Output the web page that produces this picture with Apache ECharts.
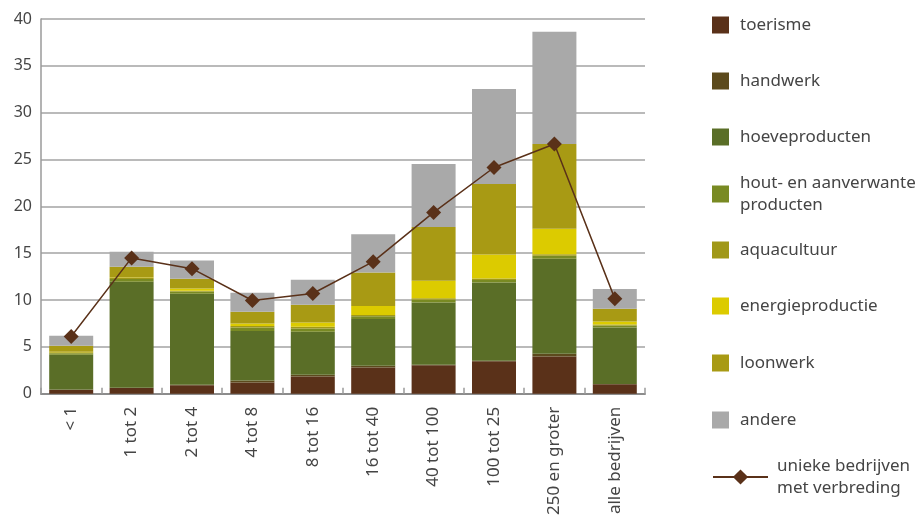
<!DOCTYPE html>
<html><head><meta charset="utf-8">
<script src="https://cdn.jsdelivr.net/npm/echarts@6/dist/echarts.min.js"></script>
<style>html,body{margin:0;padding:0;background:#fff}#c{width:924px;height:518px}</style>
</head><body><div id="c"></div>
<script>
const categories = ['< 1','1 tot 2','2 tot 4','4 tot 8','8 tot 16','16 tot 40','40 tot 100','100 tot 25','250 en groter','alle bedrijven'];
const toerisme    = [0.40, 0.60, 0.90, 1.20, 1.85, 2.80, 3.05, 3.48, 3.98, 1.00];
const handwerk    = [0.05, 0.05, 0.06, 0.20, 0.18, 0.18, 0.05, 0.05, 0.28, 0.05];
const hoeve       = [3.70, 11.30, 9.70, 5.30, 4.58, 5.00, 6.64, 8.34, 10.14, 6.02];
const hout        = [0.18, 0.30, 0.24, 0.36, 0.35, 0.30, 0.30, 0.28, 0.33, 0.22];
const aquacultuur = [0.10, 0.10, 0.10, 0.18, 0.20, 0.13, 0.16, 0.15, 0.17, 0.10];
const energie     = [0.05, 0.05, 0.24, 0.25, 0.43, 0.96, 1.85, 2.56, 2.70, 0.32];
const loonwerk    = [0.65, 1.15, 1.03, 1.25, 1.92, 3.56, 5.76, 7.54, 9.07, 1.35];
const andere      = [1.05, 1.60, 1.95, 2.03, 2.65, 4.10, 6.72, 10.13, 11.98, 2.13];
const unieke      = [6.1, 14.5, 13.35, 9.95, 10.7, 14.1, 19.35, 24.15, 26.65, 10.15];
const yTicks = [0, 5, 10, 15, 20, 25, 30, 35, 40];

const FONT = '"Noto Sans", sans-serif';
const TXT = '#454545';
const barDefs = [
  ['toerisme', toerisme, '#5a3119'],
  ['handwerk', handwerk, '#5c4a1c'],
  ['hoeveproducten', hoeve, '#5a6e27'],
  ['hout- en aanverwante producten', hout, '#798a23'],
  ['aquacultuur', aquacultuur, '#a09818'],
  ['energieproductie', energie, '#dccb00'],
  ['loonwerk', loonwerk, '#a89a14'],
  ['andere', andere, '#a9a9a9']
];
const lineName = 'unieke bedrijven met verbreding';
const series = barDefs.map(d => ({
  name: d[0], type: 'bar', stack: 'tot', data: d[1], barWidth: 44,
  itemStyle: { color: d[2] }, emphasis: { disabled: true }
}));
series.push({
  name: lineName, type: 'line', data: unieke, symbol: 'diamond', symbolSize: 15,
  lineStyle: { color: '#5a3119', width: 1.5 }, itemStyle: { color: '#5a3119' },
  z: 10, emphasis: { disabled: true }
});

const legendTops = [14, 70, 126, 172, 239, 295, 352, 409, 455];
const allNames = barDefs.map(d => d[0]).concat([lineName]);
const legends = allNames.map((n, i) => {
  const isLine = n === lineName;
  const lg = {
    data: [n], orient: 'vertical', left: 712, top: legendTops[i], padding: 0,
    itemWidth: isLine ? 55 : 17, itemHeight: isLine ? 19 : 17,
    selectedMode: false,
    formatter: function (name) {
      if (name === 'hout- en aanverwante producten') return 'hout- en aanverwante\nproducten';
      if (name === lineName) return 'unieke bedrijven\nmet verbreding';
      return name;
    },
    textStyle: { fontFamily: FONT, fontSize: 17, color: TXT, lineHeight: 22, padding: [0, 0, 0, isLine ? 4 : 6] }
  };
  if (!isLine) lg.icon = 'rect';
  return lg;
});

const chart = echarts.init(document.getElementById('c'), null, { renderer: 'canvas' });
chart.setOption({
  animation: false,
  backgroundColor: '#fff',
  grid: { left: 41, right: 279, top: 19, bottom: 124, containLabel: false },
  legend: legends,
  xAxis: {
    type: 'category', data: categories, boundaryGap: true,
    axisLine: { show: true, lineStyle: { color: '#8c8c8c', width: 2 } },
    axisTick: { show: true, inside: true, length: 6, lineStyle: { color: '#9a9a9a', width: 1.5 } },
    axisLabel: { rotate: 90, margin: 13, fontFamily: FONT, fontSize: 17, color: TXT, interval: 0 }
  },
  yAxis: {
    type: 'value', min: 0, max: 40, interval: 5,
    axisLine: { show: true, lineStyle: { color: '#9a9a9a', width: 1.5 } },
    axisTick: { show: false },
    splitLine: { show: true, lineStyle: { color: '#a3a3a3', width: 1.5 } },
    axisLabel: { margin: 9, fontFamily: FONT, fontSize: 16, color: TXT,
      formatter: v => yTicks.indexOf(v) >= 0 ? String(v) : '' }
  },
  series: series
});
</script></body></html>
